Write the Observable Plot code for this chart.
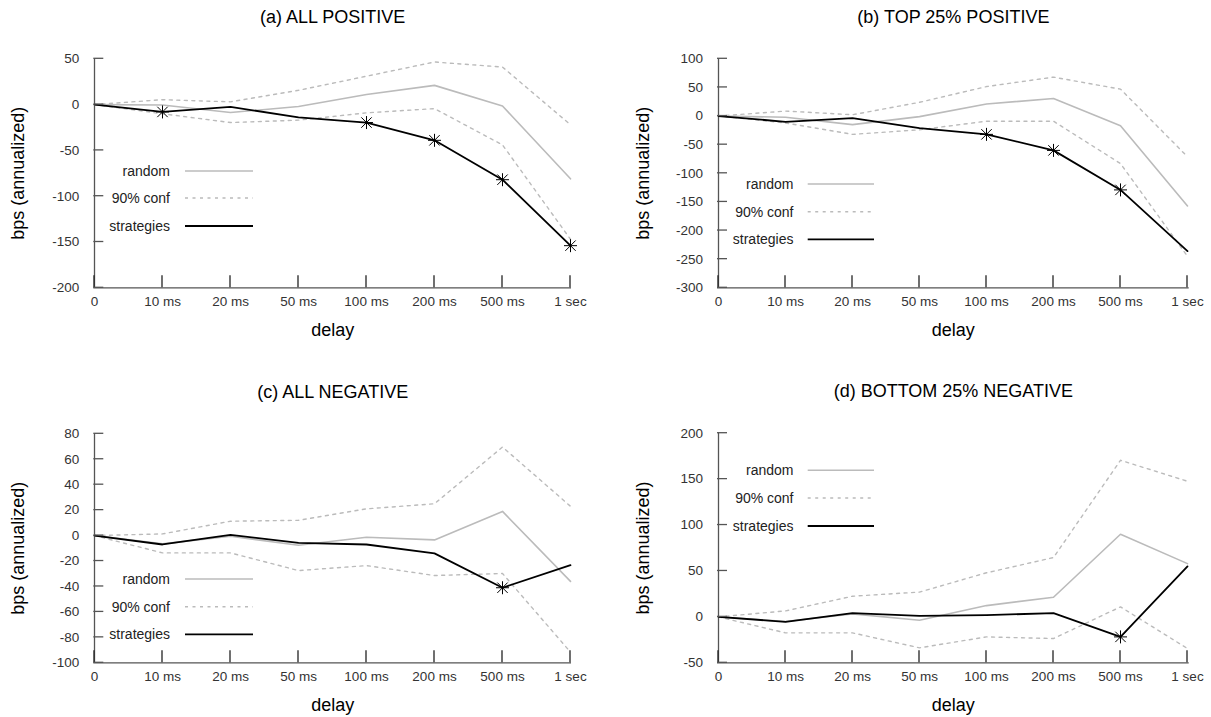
<!DOCTYPE html>
<html><head><meta charset="utf-8">
<script src="https://cdn.jsdelivr.net/npm/d3@7"></script>
<script src="https://cdn.jsdelivr.net/npm/@observablehq/plot@0.6"></script>
<style>
body{margin:0;background:#fff;}
#root{position:relative;width:1211px;height:717px;background:#fff;font-family:"Liberation Sans",Arial,sans-serif;}
#root svg{position:absolute;}
</style></head><body><div id="root"></div>
<script>
// ---- data ----
const delays = ["0","10 ms","20 ms","50 ms","100 ms","200 ms","500 ms","1 sec"];
const seriesNames = ["random","90% conf","strategies"];

const aTitle = "(a) ALL POSITIVE";
const aStrategies = [0,-8,-2.5,-14,-19.6,-39,-82,-154];
const aRandom     = [0,-0.5,-8.7,-2,11,21,-1.5,-81];
const aConfHigh   = [0,5.4,3,15.6,31,46.5,41,-22];
const aConfLow    = [0,-10,-19.6,-17,-9,-4.4,-44,-147];
const aMarked     = [false,true,false,false,true,true,true,true];
const aTicks      = [-200,-150,-100,-50,0,50];

const bTitle = "(b) TOP 25% POSITIVE";
const bStrategies = [0,-10,-3.5,-21,-32,-60,-129,-236];
const bRandom     = [0,-2,-15,-1,21,30.7,-17,-157];
const bConfHigh   = [0,8.7,2.3,24,51.5,68,47,-71];
const bConfLow    = [0,-12,-32,-24,-9,-9,-83,-245];
const bMarked     = [false,false,false,false,true,true,true,false];
const bTicks      = [-300,-250,-200,-150,-100,-50,0,50,100];

const cTitle = "(c) ALL NEGATIVE";
const cStrategies = [0,-7,0.5,-5.8,-7,-14,-41,-23.3];
const cRandom     = [0,-6.5,-0.5,-7.6,-1.3,-3.4,19,-36];
const cConfHigh   = [0,1.3,11.3,12,21,25,69.6,23];
const cConfLow    = [0,-13.6,-13.6,-27.5,-23.6,-31.4,-29.8,-91.6];
const cMarked     = [false,false,false,false,false,false,true,false];
const cTicks      = [-100,-80,-60,-40,-20,0,20,40,60,80];

const dTitle = "(d) BOTTOM 25% NEGATIVE";
const dStrategies = [0,-5.4,4,1,2,4,-21.8,55];
const dRandom     = [0,-5,3.3,-3.6,12.3,21.4,90,58];
const dConfHigh   = [0,6.5,22.5,27,48,64.6,170.5,147.7];
const dConfLow    = [0,-17.4,-17.4,-33.7,-21.8,-23.6,10.9,-34.5];
const dMarked     = [false,false,false,false,false,false,true,false];
const dTicks      = [-50,0,50,100,150,200];

// ---- styling ----
const FONT = '"Liberation Sans", Arial, sans-serif';
const GRAY = "#bbbbbb";
const DASH = "3,4.5";
const asterisk = {
  draw(c, size) {
    const r = Math.sqrt(size / Math.PI), d = r * 0.8;
    c.moveTo(-r, 0); c.lineTo(r, 0);
    c.moveTo(0, -r); c.lineTo(0, r);
    c.moveTo(-d, -d); c.lineTo(d, d);
    c.moveTo(-d, d); c.lineTo(d, -d);
  }
};

function rows(vals) { return delays.map((d, i) => ({delay: d, value: vals[i], i})); }

function panel(cfg) {
  const {title, strategies, random, hi, lo, marked, ticks, box, m, ylabelDx, legend} = cfg;
  const yDomain = [ticks[0], ticks[ticks.length - 1]];
  const sRows = rows(strategies);
  const svg = Plot.plot({
    width: box.w, height: box.h,
    marginLeft: m.l, marginRight: m.r, marginTop: m.t, marginBottom: m.b,
    style: {fontFamily: FONT, background: "transparent", overflow: "visible"},
    x: {type: "point", domain: delays, padding: 0, axis: null},
    y: {domain: yDomain, axis: null},
    marks: [
      Plot.ruleY([yDomain[0]], {stroke: "#555", strokeWidth: 1.3}),
      Plot.ruleX([delays[0]], {stroke: "#555", strokeWidth: 1.3}),
      Plot.axisX({tickSize: 0, tickPadding: 9, fill: "#333", fontSize: 13.5, label: null}),
      Plot.axisY({ticks: ticks, tickSize: 0, tickPadding: 14.5, fill: "#333", fontSize: 13.5, label: null, tickFormat: d => String(d)}),
      Plot.line(rows(hi), {x: "delay", y: "value", stroke: GRAY, strokeWidth: 1.4, strokeDasharray: DASH}),
      Plot.line(rows(lo), {x: "delay", y: "value", stroke: GRAY, strokeWidth: 1.4, strokeDasharray: DASH}),
      Plot.line(rows(random), {x: "delay", y: "value", stroke: GRAY, strokeWidth: 1.6}),
      Plot.line(sRows, {x: "delay", y: "value", stroke: "#000", strokeWidth: 1.8}),
      Plot.dot(sRows.filter(d => marked[d.i]), {x: "delay", y: "value", symbol: asterisk, r: 6.5, stroke: "#000", strokeWidth: 1, fill: "none"}),
      Plot.text([title], {frameAnchor: "top", dy: -42, textAnchor: "middle", lineAnchor: "middle", fontSize: 18, fill: "#000"}),
      Plot.text(["delay"], {frameAnchor: "bottom", dy: 42, textAnchor: "middle", lineAnchor: "middle", fontSize: 18, fill: "#000"}),
      Plot.text(["bps (annualized)"], {frameAnchor: "left", dx: ylabelDx, rotate: -90, textAnchor: "middle", lineAnchor: "middle", fontSize: 18, fill: "#000"})
    ]
  });
  svg.style.left = box.x + "px";
  svg.style.top = box.y + "px";
  // inward ticks, positioned through the plot's own scales
  const xs = svg.scale("x"), ys = svg.scale("y");
  const bottom = box.h - m.b, left = m.l;
  const tg = d3.select(svg).append("g");
  delays.forEach(d => {
    const px = xs.apply(d);
    tg.append("line").attr("x1", px).attr("x2", px).attr("y1", bottom).attr("y2", bottom - 12)
      .attr("stroke", "#222").attr("stroke-width", 1.3);
  });
  ticks.forEach(t => {
    const py = ys.apply(t);
    tg.append("line").attr("x1", left).attr("x2", left + 10).attr("y1", py).attr("y2", py)
      .attr("stroke", "#555").attr("stroke-width", 1.3);
  });
  // legend
  const g = d3.select(svg).append("g").attr("font-family", FONT).attr("font-size", 14);
  const styles = [
    {stroke: GRAY, width: 1.6, dash: null},
    {stroke: GRAY, width: 1.4, dash: DASH},
    {stroke: "#000", width: 1.8, dash: null}
  ];
  seriesNames.forEach((name, k) => {
    const y = legend.ys[k];
    g.append("text").attr("x", legend.textRight).attr("y", y).attr("dy", "0.35em")
      .attr("text-anchor", "end").attr("fill", "#222").text(name);
    g.append("line").attr("x1", legend.x1).attr("x2", legend.x2).attr("y1", y).attr("y2", y)
      .attr("stroke", styles[k].stroke).attr("stroke-width", styles[k].width)
      .attr("stroke-dasharray", styles[k].dash);
  });
  document.getElementById("root").appendChild(svg);
}

panel({title: aTitle, strategies: aStrategies, random: aRandom, hi: aConfHigh, lo: aConfLow, marked: aMarked, ticks: aTicks,
  box: {x: 0, y: 0, w: 605, h: 360}, m: {l: 93.3, r: 34, t: 58.3, b: 72.7}, ylabelDx: -76,
  legend: {textRight: 170, x1: 185, x2: 253, ys: [171, 198, 226]}});
panel({title: bTitle, strategies: bStrategies, random: bRandom, hi: bConfHigh, lo: bConfLow, marked: bMarked, ticks: bTicks,
  box: {x: 605, y: 0, w: 606, h: 360}, m: {l: 112, r: 22.3, t: 58.3, b: 72.7}, ylabelDx: -74,
  legend: {textRight: 188.5, x1: 202.7, x2: 269, ys: [184, 211.7, 239.3]}});
panel({title: cTitle, strategies: cStrategies, random: cRandom, hi: cConfHigh, lo: cConfLow, marked: cMarked, ticks: cTicks,
  box: {x: 0, y: 360, w: 605, h: 357}, m: {l: 93.3, r: 34, t: 73.3, b: 54.7}, ylabelDx: -76,
  legend: {textRight: 170, x1: 185, x2: 253, ys: [219, 246.7, 274.3]}});
panel({title: dTitle, strategies: dStrategies, random: dRandom, hi: dConfHigh, lo: dConfLow, marked: dMarked, ticks: dTicks,
  box: {x: 605, y: 360, w: 606, h: 357}, m: {l: 112, r: 22.3, t: 72.7, b: 54.7}, ylabelDx: -74,
  legend: {textRight: 188.5, x1: 202.7, x2: 269, ys: [110.3, 138, 166]}});
</script></body></html>
